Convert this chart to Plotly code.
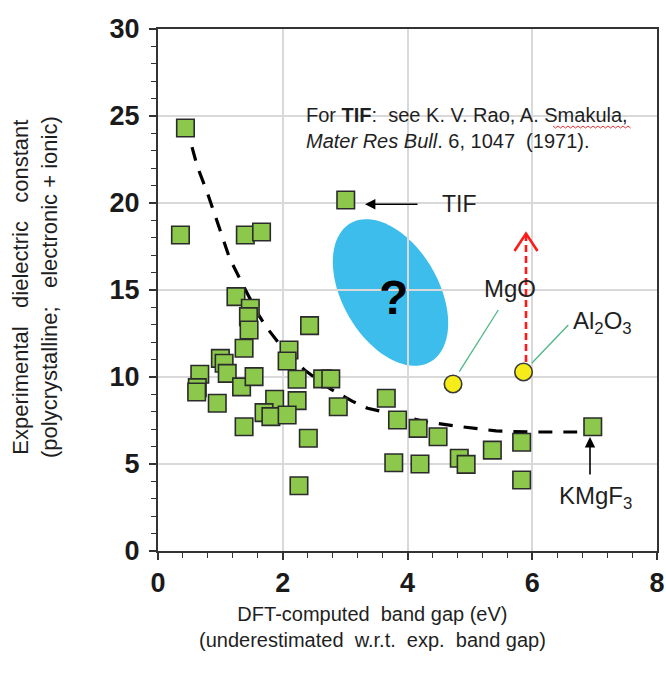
import numpy as np
import plotly.graph_objects as go

# ---------------- data ----------------
gap_x = [0.44, 0.36, 1.40, 1.66, 3.01, 1.25, 1.48, 1.45, 1.46, 2.43,
         1.38, 2.10, 2.07, 1.00, 1.06, 1.11, 0.67, 0.63, 0.62, 0.95,
         1.34, 1.54, 2.23, 2.64, 2.77, 1.87, 2.23, 2.89, 1.70, 1.81,
         2.07, 1.38, 2.41, 2.26, 3.66, 3.84, 4.17, 4.49, 3.78, 4.20,
         4.83, 4.94, 5.36, 5.83, 5.83, 6.97]
eps_y = [24.31, 18.16, 18.16, 18.33, 20.17, 14.62, 13.95, 13.47, 12.70, 12.95,
         11.65, 11.55, 10.92, 11.07, 10.79, 10.21, 10.16, 9.39, 9.14, 8.49,
         9.43, 10.02, 9.87, 9.89, 9.89, 8.72, 8.64, 8.29, 7.95, 7.72,
         7.82, 7.14, 6.48, 3.75, 8.78, 7.53, 7.05, 6.57, 5.07, 5.00,
         5.33, 4.98, 5.80, 6.25, 4.08, 7.14]

oxide_names = ["MgO", "Al2O3"]
oxide_x = [4.73, 5.86]
oxide_y = [9.60, 10.29]

curve_x = [0.44, 0.63, 0.80, 0.98, 1.15, 1.36, 1.59, 1.73, 1.98, 2.35,
           2.77, 3.12, 3.36, 3.62, 4.33, 4.89, 5.42, 5.93, 6.41, 6.72]
curve_y = [24.6, 22.1, 20.5, 18.6, 16.8, 15.3, 13.7, 12.9, 11.75, 10.4,
           9.3, 8.6, 8.2, 8.0, 7.4, 7.13, 6.9, 6.84, 6.84, 6.84]

x_ticks = [0, 2, 4, 6, 8]
y_ticks = [0, 5, 10, 15, 20, 25, 30]

# ---------------- layout geometry ----------------
W, H = 666, 688
ML, MR, MT, MB = 158, 9, 29, 137
X0, X1, Y0, Y1 = 0, 8, 0, 30
PW, PH = W - ML - MR, H - MT - MB


def px2d(px, py):
    """pixel position in the page -> data coordinates (for decorations)"""
    return (X0 + (px - ML) / PW * (X1 - X0), Y0 + (H - MB - py) / PH * (Y1 - Y0))


def px2paper(px, py):
    return ((px - ML) / PW, (H - MB - py) / PH)


FONT = "Liberation Sans, Arial, sans-serif"
TXT = "#1f1f1f"

fig = go.Figure()

# fitted trend (dashed)
fig.add_trace(go.Scatter(x=curve_x, y=curve_y, mode="lines",
                         line=dict(color="black", width=3.2, dash="14px,11px"),
                         hoverinfo="skip", showlegend=False))

# green squares
fig.add_trace(go.Scatter(x=gap_x, y=eps_y, mode="markers",
                         marker=dict(symbol="square", size=17.5, color="#8cc84b",
                                     line=dict(color="#2b2b2b", width=1.6)),
                         showlegend=False))

# yellow circles
fig.add_trace(go.Scatter(x=oxide_x, y=oxide_y, mode="markers",
                         marker=dict(symbol="circle", size=17.5, color="#f5ec1a",
                                     line=dict(color="#3a3a3a", width=1.6)),
                         text=oxide_names, showlegend=False))

shapes = []

# blue ellipse with "?"
cx, cy = 390.5, 292.5
a, b, th = 80, 48, np.deg2rad(60)
t = np.linspace(0, 2 * np.pi, 90)
ex = cx + a * np.cos(th) * np.cos(t) - b * np.sin(th) * np.sin(t)
ey = cy + a * np.sin(th) * np.cos(t) + b * np.cos(th) * np.sin(t)
pts = [px2d(u, v) for u, v in zip(ex, ey)]
path = "M " + " L ".join(f"{p[0]:.4f},{p[1]:.4f}" for p in pts) + " Z"
shapes.append(dict(type="path", path=path, xref="x", yref="y",
                   fillcolor="#3dbdec", line=dict(width=0), layer="below"))

# green leader lines
for (p1, p2) in [((459.3, 371.7), (498.3, 310)), ((531.7, 363.3), (568.3, 325))]:
    a1, a2 = px2d(*p1), px2d(*p2)
    shapes.append(dict(type="line", xref="x", yref="y", x0=a1[0], y0=a1[1],
                       x1=a2[0], y1=a2[1], line=dict(color="#4db884", width=1.3)))

# red dashed arrow
r0, r1 = px2d(526, 362), px2d(526, 236)
shapes.append(dict(type="line", xref="x", yref="y", x0=r0[0], y0=r0[1],
                   x1=r1[0], y1=r1[1], line=dict(color="#ff1a1a", width=2.6, dash="7px,4px")))
c1, c2, c3 = px2d(514.5, 251), px2d(526, 233.5), px2d(537.5, 251)
shapes.append(dict(type="path", xref="x", yref="y",
                   path=f"M {c1[0]},{c1[1]} L {c2[0]},{c2[1]} L {c3[0]},{c3[1]}",
                   line=dict(color="#ff1a1a", width=2.6)))

# red wavy spell-check underline below "Smakula"
zx = np.arange(553, 633, 2.5)
zy = 127 + np.where(np.arange(len(zx)) % 2 == 0, -1.0, 1.0)
zp = [px2d(u, v) for u, v in zip(zx, zy)]
shapes.append(dict(type="path", xref="x", yref="y",
                   path="M " + " L ".join(f"{p[0]:.4f},{p[1]:.4f}" for p in zp),
                   line=dict(color="#e03030", width=1)))

annotations = []

qx, qy = px2d(393, 297)
annotations.append(dict(x=qx, y=qy, text="<b>?</b>", showarrow=False,
                        font=dict(family=FONT, size=48, color="black")))

# reference text
rx, ry = px2d(304, 128)
annotations.append(dict(x=rx, y=ry, xanchor="left", yanchor="middle", align="left",
                        text="For <b>TIF</b>:  see K. V. Rao, A. Smakula,<br>"
                             "<i>Mater Res Bull</i>. 6, 1047  (1971).",
                        showarrow=False, font=dict(family=FONT, size=20, color=TXT)))

# TIF arrow
tip, tail = px2d(365, 204.3), px2d(419, 204.3)
annotations.append(dict(x=tip[0], y=tip[1], ax=tail[0], ay=tail[1], axref="x", ayref="y",
                        text="", showarrow=True, arrowhead=2, arrowsize=1.3,
                        arrowwidth=1.6, arrowcolor="black"))
lx, ly = px2d(459, 204)
annotations.append(dict(x=lx, y=ly, text="TIF", showarrow=False,
                        font=dict(family=FONT, size=23, color=TXT)))

# KMgF3 arrow and label
tip, tail = px2d(590, 437), px2d(590, 476)
annotations.append(dict(x=tip[0], y=tip[1], ax=tail[0], ay=tail[1], axref="x", ayref="y",
                        text="", showarrow=True, arrowhead=2, arrowsize=1.3,
                        arrowwidth=1.6, arrowcolor="black"))
lx, ly = px2d(595, 497)
annotations.append(dict(x=lx, y=ly, text="KMgF<sub>3</sub>", showarrow=False,
                        font=dict(family=FONT, size=24, color=TXT)))

# oxide labels
lx, ly = px2d(510, 288)
annotations.append(dict(x=lx, y=ly, text="MgO", showarrow=False,
                        font=dict(family=FONT, size=24, color=TXT)))
lx, ly = px2d(602, 322)
annotations.append(dict(x=lx, y=ly, text="Al<sub>2</sub>O<sub>3</sub>", showarrow=False,
                        font=dict(family=FONT, size=24, color=TXT)))

# axis titles
tx, ty = px2paper(372, 627)
annotations.append(dict(xref="paper", yref="paper", x=tx, y=ty,
                        xanchor="center", yanchor="middle",
                        text="DFT-computed  band gap (eV)<br>(underestimated  w.r.t.  exp.  band gap)",
                        showarrow=False, font=dict(family=FONT, size=20, color=TXT)))
tx, ty = px2paper(35, 287)
annotations.append(dict(xref="paper", yref="paper", x=tx, y=ty,
                        xanchor="center", yanchor="middle",
                        text="Experimental   dielectric   constant<br>(polycrystalline;   electronic + ionic)",
                        textangle=-90, showarrow=False,
                        font=dict(family=FONT, size=22, color=TXT)))

axis_common = dict(showgrid=True, gridcolor="#d9d9d9", gridwidth=1.5,
                   showline=True, linecolor="#333333", linewidth=2, mirror=True,
                   ticks="outside", ticklen=7, tickwidth=1.5, tickcolor="#333333",
                   zeroline=False, automargin=False,
                   tickfont=dict(family=FONT, size=27, color="#1a1a1a", weight="bold"))

fig.update_layout(
    width=W, height=H,
    margin=dict(l=ML, r=MR, t=MT, b=MB, pad=0, autoexpand=False),
    paper_bgcolor="white", plot_bgcolor="white",
    showlegend=False,
    xaxis=dict(range=[X0, X1], tickvals=x_ticks, ticklabelstandoff=0,
               minor=dict(dtick=0.4, ticks="outside", ticklen=5, tickcolor="#333333",
                          tickwidth=1.3, showgrid=False),
               **axis_common),
    yaxis=dict(range=[Y0, Y1], tickvals=y_ticks, ticklabelstandoff=4,
               minor=dict(dtick=1, ticks="outside", ticklen=5, tickcolor="#333333",
                          tickwidth=1.3, showgrid=False),
               **axis_common),
    shapes=shapes,
    annotations=annotations,
)

fig.write_html("out.html", config={"displayModeBar": False},
               post_script="document.body.style.margin='0px';"
                           "document.body.style.overflow='hidden';")
